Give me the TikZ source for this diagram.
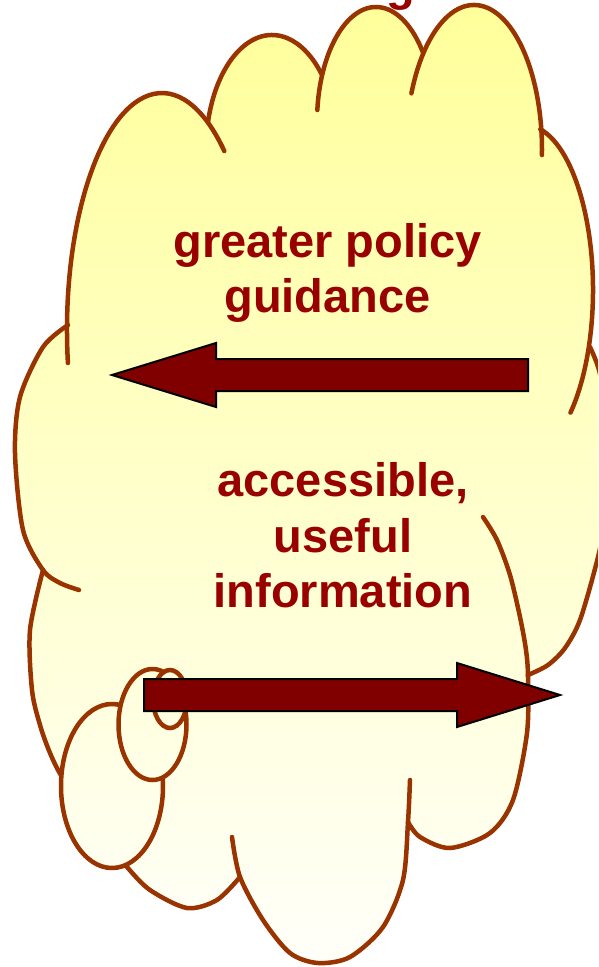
\documentclass[tikz,border=0pt]{standalone}
\usepackage{fontspec}
\setmainfont{Liberation Sans}
\definecolor{cloudline}{RGB}{153,51,0}
\definecolor{cloudtop}{RGB}{255,255,153}
\definecolor{cloudbot}{RGB}{255,255,250}
\definecolor{textred}{RGB}{153,0,0}
\definecolor{arrowred}{RGB}{128,0,0}
\tikzset{
  lobe/.style={draw=cloudline, line width=4.5pt, line cap=round},
  blockarrow/.style={fill=arrowred, draw=black, line width=2pt, line join=miter},
  cloudtext/.style={text=textred, font=\fontsize{47}{55.5}\selectfont\bfseries, align=center, inner sep=0pt},
  bubble/.style={draw=cloudline, line width=4.5pt},
  cloudshade/.style={top color=cloudtop, bottom color=cloudbot},
}
\begin{document}
\begin{tikzpicture}[x=1pt,y=-1pt]
\useasboundingbox (0,0) rectangle (598,967);
\fill[white] (0,0) rectangle (598,967);
\clip (0,0) rectangle (598,967);
% fragment of a title cut off at the top edge
\node[text=textred, font=\fontsize{47}{55.5}\selectfont\bfseries, inner sep=0pt, anchor=base] (titlefrag) at (401,0) {g};
% cloud fill (outer contour)
\shade[cloudshade]
  ([shift={(181:95 and 237)}]162,330) arc[start angle=181, end angle=299, x radius=95, y radius=237]
  -- ([shift={(194:66 and 115)}]272,150) arc[start angle=194, end angle=319, x radius=66, y radius=115]
  -- ([shift={(204:59 and 115)}]376,122) arc[start angle=204, end angle=323, x radius=59, y radius=115]
  -- ([shift={(222:68 and 145)}]474,150) arc[start angle=222, end angle=351, x radius=68, y radius=145]
  -- ([shift={(283:68 and 165)}]525,290) arc[start angle=283, end angle=379, x radius=68, y radius=165]
  -- plot[smooth] coordinates {(590,347) (599,370) (610,420) (613,470) (606,520) (596,565) (580,620) (565,648) (548,665) (528,675)}
  -- plot[smooth] coordinates {(528,675) (527,733) (513,800) (490,833) (450,848) (420,837) (408,822)}
  -- plot[smooth] coordinates {(408,822) (403,880) (383,927) (350,957) (318,963) (290,953) (263,920) (240,877)}
  -- plot[smooth] coordinates {(240,877) (217,900) (187,908) (150,890) (127,867) (110,845)}
  -- plot[smooth] coordinates {(110,845) (90,820) (62,777) (50,753) (40,725) (32,690) (30,630) (43,570)}
  -- plot[smooth] coordinates {(43,570) (23,530) (15,453) (20,397) (43,347) (68,325)}
  -- cycle;
% cloud outline lobes
\draw[lobe] ([shift={(172:95 and 237)}]162,330) arc[start angle=172, end angle=311, x radius=95, y radius=237];
\draw[lobe] ([shift={(194:66 and 115)}]272,150) arc[start angle=194, end angle=319, x radius=66, y radius=115];
\draw[lobe] ([shift={(186:59 and 115)}]376,122) arc[start angle=186, end angle=323, x radius=59, y radius=115];
\draw[lobe] ([shift={(203:68 and 145)}]474,150) arc[start angle=203, end angle=362, x radius=68, y radius=145];
\draw[lobe] ([shift={(283:68 and 165)}]525,290) arc[start angle=283, end angle=408, x radius=68, y radius=165];
\draw[lobe] plot[smooth] coordinates {(590,347) (599,370) (610,420) (613,470) (606,520) (596,565) (580,620) (565,648) (548,665) (528,675)};
\draw[lobe] plot[smooth] coordinates {(483,517) (497,540) (510,575) (520,617) (526,650) (528,677) (527,733) (513,800) (490,833) (450,848) (420,837) (408,822)};
\draw[lobe] plot[smooth] coordinates {(410,780) (408,822) (403,880) (383,927) (350,957) (318,963) (290,953) (263,920) (240,877) (232,837)};
\draw[lobe] plot[smooth] coordinates {(240,877) (217,900) (187,908) (150,890) (127,867) (110,845)};
\draw[lobe] plot[smooth] coordinates {(110,845) (90,820) (62,777) (50,753) (40,725) (32,690) (30,630) (43,570)};
\draw[lobe] plot[smooth] coordinates {(79,590) (60,583) (43,570) (23,530) (15,453) (20,397) (43,347) (68,325)};
% thought bubbles
\begin{scope}
  \clip (112,786) ellipse [x radius=51, y radius=82];
  \shade[cloudshade] (0,5) rectangle (620,963);
\end{scope}
\draw[bubble] (112,786) ellipse [x radius=51, y radius=82];
\begin{scope}
  \clip (152.5,724.5) ellipse [x radius=34, y radius=55.5];
  \shade[cloudshade] (0,5) rectangle (620,963);
\end{scope}
\draw[bubble] (152.5,724.5) ellipse [x radius=34, y radius=55.5];
\begin{scope}
  \clip (170,699) ellipse [x radius=17, y radius=29];
  \shade[cloudshade] (0,5) rectangle (620,963);
\end{scope}
\draw[bubble] (170,699) ellipse [x radius=17, y radius=29];
% texts
\node[cloudtext] (policy) at (327.5,273) {greater policy\\guidance};
\node[cloudtext] (info) at (343,535.5) {accessible,\\useful\\information};
% block arrows
\draw[blockarrow] (528,359) -- (216,359) -- (216,343) -- (112,375) -- (216,407) -- (216,391) -- (528,391) -- cycle;
\draw[blockarrow] (144,679) -- (457,679) -- (457,663) -- (560,695) -- (457,727) -- (457,711) -- (144,711) -- cycle;
\end{tikzpicture}
\end{document}
